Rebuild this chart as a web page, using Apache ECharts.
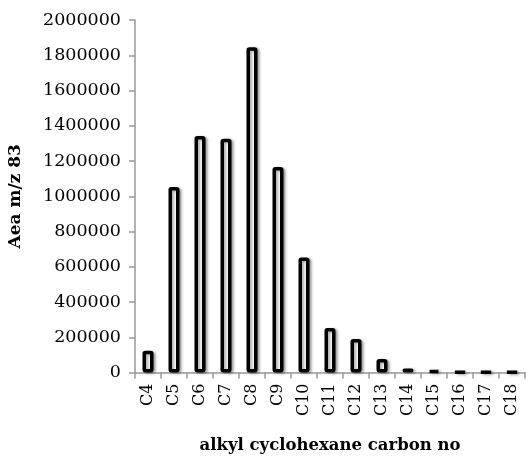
<!DOCTYPE html>
<html><head><meta charset="utf-8">
<script src="https://cdn.jsdelivr.net/npm/echarts@6/dist/echarts.min.js"></script>
<style>html,body{margin:0;padding:0;background:#fff}#c{width:526px;height:457px}</style>
</head><body><div id="c"></div>
<script>
var categories = ['C4','C5','C6','C7','C8','C9','C10','C11','C12','C13','C14','C15','C16','C17','C18'];
var values = [123000,1052000,1342000,1326000,1845000,1166000,652000,252000,190000,76000,23000,12000,4000,3500,4000];
var yTicks = {min:0, max:2000000, interval:200000};
var xTitle = 'alkyl cyclohexane carbon no';
var yTitle = 'Aea m/z 83';

var chart = echarts.init(document.getElementById('c'), null, {renderer:'canvas'});
var font = 'DejaVu Serif';
chart.setOption({
  animation:false,
  grid:{left:135, right:1, top:20, bottom:84.5, containLabel:false, outerBoundsMode:'none'},
  xAxis:{
    type:'category', data:categories,
    name:xTitle, nameLocation:'middle', nameGap:65,
    nameTextStyle:{fontFamily:font, fontWeight:'bold', fontSize:16.5, color:'#000'},
    axisLine:{lineStyle:{color:'#999', width:1.5}},
    axisTick:{show:true, length:6, lineStyle:{color:'#999', width:1.5}},
    axisLabel:{rotate:90, fontFamily:font, fontSize:16, color:'#000', margin:11}
  },
  yAxis:{
    type:'value', min:yTicks.min, max:yTicks.max, interval:yTicks.interval,
    name:yTitle, nameLocation:'middle', nameGap:111,
    nameTextStyle:{fontFamily:font, fontWeight:'bold', fontSize:17, color:'#000'},
    axisLine:{show:true, lineStyle:{color:'#999', width:1.5}},
    axisTick:{show:true, length:6, lineStyle:{color:'#999', width:1.5}},
    splitLine:{show:false},
    axisLabel:{fontFamily:font, fontSize:17.5, color:'#000', margin:14,
      formatter:function(v){return String(v);}}
  },
  series:[{
    type:'bar', data:values, barWidth:11,
    itemStyle:{color:'#fff', borderColor:'#000', borderWidth:3.5, borderRadius:1,
      shadowColor:'rgba(0,0,0,0.35)', shadowBlur:3, shadowOffsetX:2, shadowOffsetY:1}
  }]
});
</script></body></html>
